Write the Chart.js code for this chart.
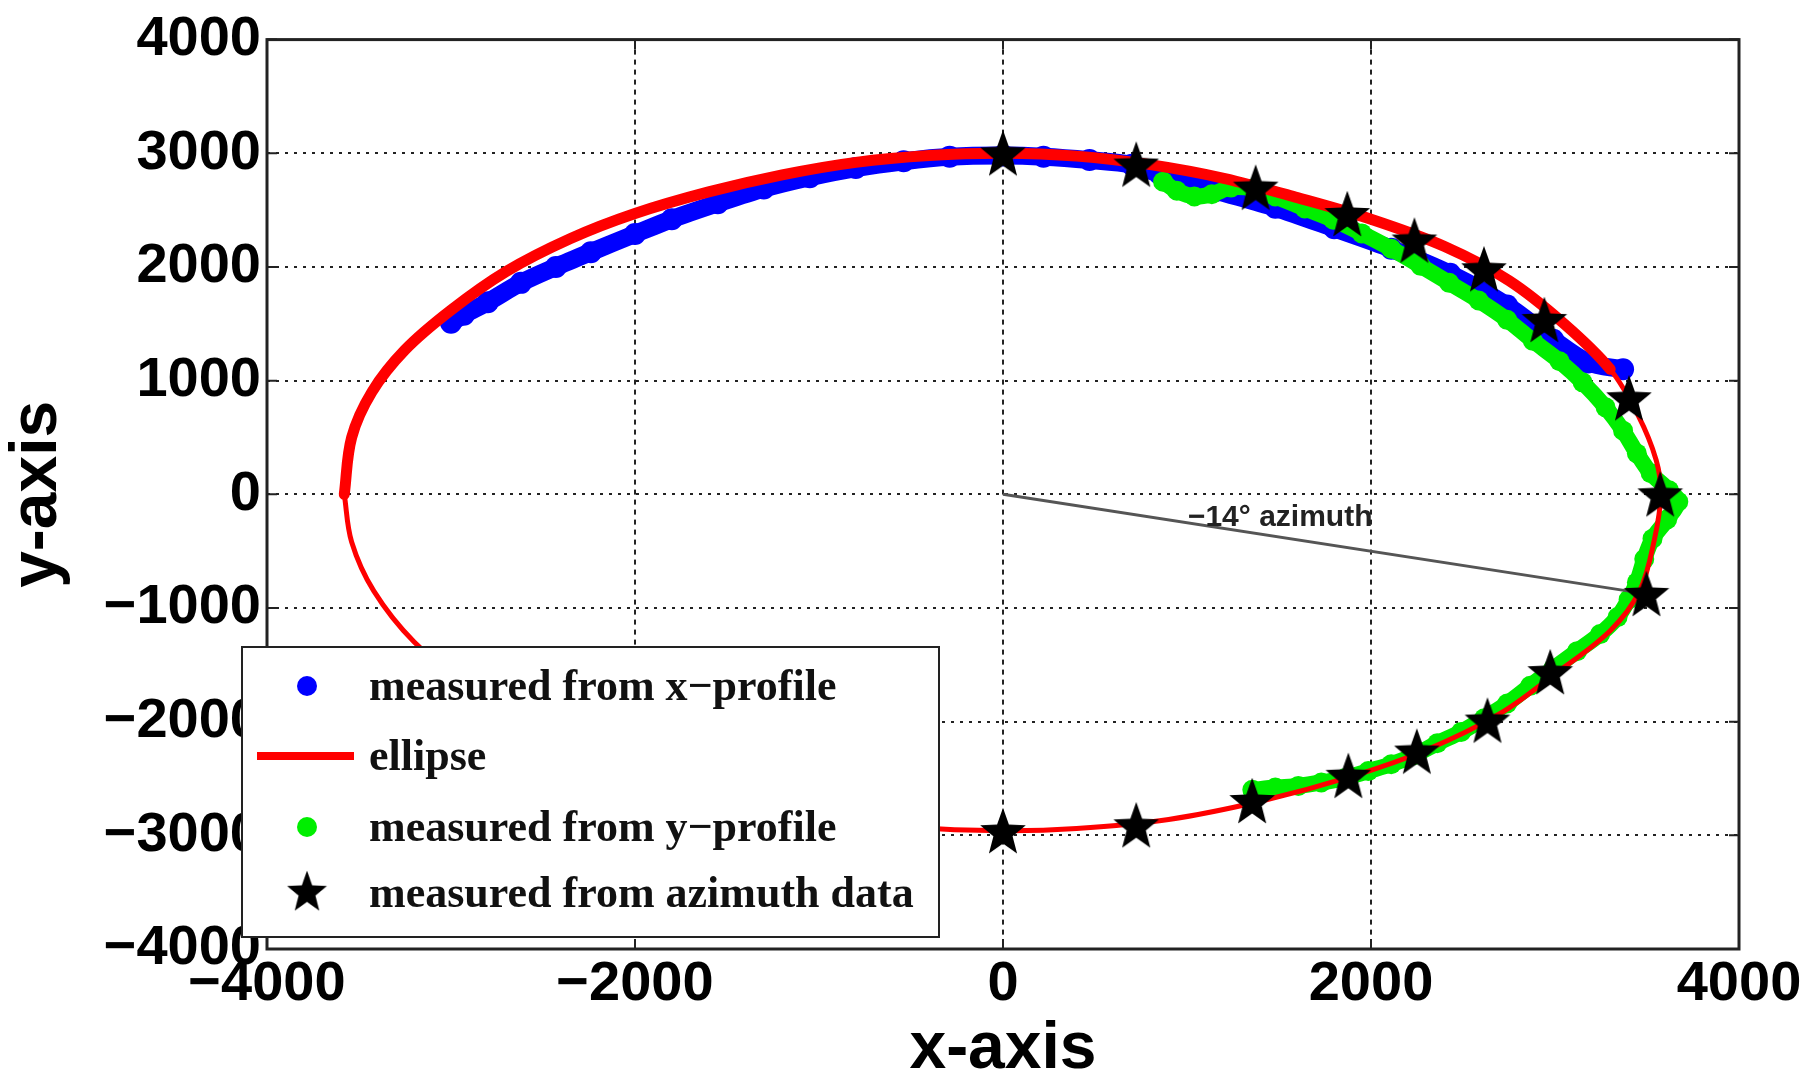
<!DOCTYPE html>
<html>
<head>
<meta charset="utf-8">
<title>Ellipse fit</title>
<script src="https://cdn.jsdelivr.net/npm/chart.js@4.4.1/dist/chart.umd.min.js"></script>
<style>
  body { margin: 0; background: #fff; }
  #wrap { width: 1818px; height: 1075px; }
</style>
</head>
<body>
<div id="wrap"><canvas id="ellipseChart" width="1818" height="1075"></canvas></div>
<script>
// axis ticks
const xTicks = [-4000, -2000, 0, 2000, 4000];
const yTicks = [-4000, -3000, -2000, -1000, 0, 1000, 2000, 3000, 4000];

// legend names
const seriesNames = ["measured from x\u2212profile", "ellipse", "measured from y\u2212profile", "measured from azimuth data"];

// blue: measured from x-profile
const blueX = [-3000, -2930, -2800, -2620, -2430, -2240, -2000, -1800, -1550, -1300, -1050, -800, -540, -290, 0, 220, 470, 700, 850, 1160, 1480, 1800, 2110, 2430, 2740, 2990, 3180, 3370];
const blueY = [1510, 1580, 1690, 1860, 2000, 2130, 2290, 2420, 2560, 2690, 2790, 2870, 2930, 2970, 2980, 2970, 2940, 2900, 2820, 2670, 2520, 2340, 2160, 1940, 1660, 1360, 1160, 1100];

// red: fitted ellipse
const ellipseX = [-3580, -3540, -3430, -3250, -3000, -2700, -2350, -2000, -1600, -1200, -800, -400, 0, 400, 800, 1200, 1600, 2000, 2400, 2750, 3050, 3300, 3450, 3550, 3575, 3540, 3460, 3300, 3000, 2700, 2300, 1900, 1400, 900, 400, 0, -500, -1000, -1500, -2000, -2500, -2900, -3200, -3420, -3540, -3580];
const ellipseY = [0, 500, 900, 1270, 1620, 1960, 2250, 2470, 2660, 2810, 2920, 2980, 3000, 2975, 2900, 2780, 2610, 2420, 2180, 1880, 1500, 1100, 700, 300, 0, -400, -850, -1200, -1580, -1930, -2250, -2480, -2700, -2860, -2940, -2960, -2930, -2840, -2680, -2450, -2100, -1700, -1300, -850, -420, 0];

// green: measured from y-profile
const greenX = [870, 945, 1040, 1135, 1240, 1355, 1480, 1640, 1795, 1950, 2110, 2270, 2425, 2585, 2740, 2880, 3025, 3150, 3275, 3370, 3445, 3520, 3620, 3670, 3610, 3530, 3485, 3445, 3400, 3340, 3245, 3120, 2990, 2865, 2740, 2615, 2490, 2360, 2235, 2110, 1985, 1860, 1730, 1605, 1480, 1355];
const greenY = [2750, 2670, 2620, 2640, 2700, 2690, 2620, 2515, 2415, 2295, 2160, 2010, 1860, 1705, 1535, 1350, 1170, 985, 765, 560, 360, 185, 35, -65, -220, -390, -570, -775, -925, -1080, -1230, -1380, -1535, -1685, -1840, -1970, -2090, -2190, -2295, -2375, -2435, -2495, -2535, -2565, -2580, -2600];

// black stars: measured from azimuth data
const starX = [0, 724, 1373, 1871, 2236, 2614, 2942, 3402, 3572, 3497, 2974, 2633, 2249, 1877, 1354, 724, 0];
const starY = [3000, 2901, 2698, 2466, 2233, 1980, 1534, 845, 0, -876, -1564, -1990, -2263, -2476, -2698, -2911, -2962];

// azimuth ray
const azimuthX = [0, 3497];
const azimuthY = [0, -876];

function toPoints(xs, ys) {
    return xs.map((x, i) => ({ x: x, y: ys[i] }));
}

function makeStar(size) {
    const c = document.createElement("canvas");
    c.width = size;
    c.height = size;
    const g = c.getContext("2d");
    const R = size / 2, r = R * 0.42;
    g.beginPath();
    for (let i = 0; i < 10; i++) {
        const rad = i % 2 ? r : R;
        const a = -Math.PI / 2 + i * Math.PI / 5;
        g.lineTo(R + rad * Math.cos(a), R + rad * 1.05 * Math.sin(a) + 2);
    }
    g.closePath();
    g.fillStyle = "#000";
    g.fill();
    return c;
}
const starImg = makeStar(48);

const SANS = "'Liberation Sans', Arial, Helvetica, sans-serif";
const SERIF = "'Liberation Serif', 'Times New Roman', serif";

// box, inner ticks, azimuth label and legend drawn on top
const framePlugin = {
    id: "frame",
    afterDraw(chart) {
        const { ctx, chartArea: a, scales } = chart;
        ctx.save();
        ctx.strokeStyle = "#222";
        ctx.lineWidth = 2;
        ctx.setLineDash([]);
        ctx.beginPath();
        yTicks.forEach(v => {
            const py = scales.y.getPixelForValue(v);
            ctx.moveTo(a.left, py); ctx.lineTo(a.left + 10, py);
            ctx.moveTo(a.right, py); ctx.lineTo(a.right - 10, py);
        });
        xTicks.forEach(v => {
            const px = scales.x.getPixelForValue(v);
            ctx.moveTo(px, a.bottom); ctx.lineTo(px, a.bottom - 10);
            ctx.moveTo(px, a.top); ctx.lineTo(px, a.top + 10);
        });
        ctx.stroke();
        ctx.lineWidth = 3;
        ctx.strokeRect(a.left, a.top, a.right - a.left, a.bottom - a.top);

        // azimuth label
        ctx.fillStyle = "#222";
        ctx.font = "bold 30px " + SANS;
        ctx.textBaseline = "middle";
        ctx.textAlign = "left";
        ctx.fillText("\u221214\u00b0 azimuth", scales.x.getPixelForValue(1005), scales.y.getPixelForValue(-210));

        // legend box
        const lx = a.left - 25, ly = a.bottom - 302, lw = 697, lh = 290;
        ctx.fillStyle = "#fff";
        ctx.fillRect(lx, ly, lw, lh);
        ctx.strokeStyle = "#222";
        ctx.lineWidth = 2;
        ctx.strokeRect(lx, ly, lw, lh);
        const mx = lx + 65, tx = lx + 127;
        const rows = [ly + 42, ly + 112, ly + 183, ly + 249];
        ctx.fillStyle = "#0000ff";
        ctx.beginPath(); ctx.arc(mx, rows[0] - 3, 10, 0, Math.PI * 2); ctx.fill();
        ctx.strokeStyle = "#ff0000";
        ctx.lineWidth = 8;
        ctx.beginPath(); ctx.moveTo(lx + 15, rows[1] - 3); ctx.lineTo(lx + 112, rows[1] - 3); ctx.stroke();
        ctx.fillStyle = "#00ee00";
        ctx.beginPath(); ctx.arc(mx, rows[2] - 3, 10, 0, Math.PI * 2); ctx.fill();
        ctx.drawImage(starImg, mx - 21, rows[3] - 26, 42, 42);
        ctx.fillStyle = "#111";
        ctx.font = "bold 44px " + SERIF;
        seriesNames.forEach((n, i) => ctx.fillText(n, tx, rows[i]));
        ctx.restore();
    }
};

const gridStyle = { color: "#222", lineWidth: 2, drawTicks: false };

new Chart(document.getElementById("ellipseChart"), {
    type: "scatter",
    data: {
        datasets: [
            {
                label: seriesNames[3],
                data: toPoints(starX, starY),
                pointStyle: starImg,
                pointRadius: 24,
                order: 1
            },
            {
                label: "azimuth",
                data: toPoints(azimuthX, azimuthY),
                showLine: true,
                borderColor: "#555",
                borderWidth: 3,
                pointRadius: 0,
                order: 2
            },
            {
                label: seriesNames[1],
                data: toPoints(ellipseX, ellipseY),
                showLine: true,
                borderColor: "#ff0000",
                borderWidth: 11,
                tension: 0.35,
                pointRadius: 0,
                borderCapStyle: "round",
                segment: {
                    borderWidth: ctx => ctx.p0DataIndex < 21 ? 11 : 5
                },
                order: 3
            },
            {
                label: seriesNames[2],
                data: toPoints(greenX, greenY),
                showLine: true,
                borderColor: "#00ee00",
                borderWidth: 16,
                borderCapStyle: "round",
                tension: 0.3,
                pointRadius: 10,
                pointBackgroundColor: "#00ee00",
                pointBorderWidth: 0,
                order: 4
            },
            {
                label: seriesNames[0],
                data: toPoints(blueX, blueY),
                showLine: true,
                borderColor: "#0000ff",
                borderWidth: 18,
                borderCapStyle: "round",
                tension: 0.3,
                pointRadius: 11,
                pointBackgroundColor: "#0000ff",
                pointBorderWidth: 0,
                order: 5
            }
        ]
    },
    options: {
        responsive: false,
        animation: false,
        layout: { padding: { left: 0, top: 33, right: 79, bottom: 0 } },
        plugins: { legend: { display: false }, tooltip: { enabled: false } },
        scales: {
            x: {
                type: "linear",
                min: -4000,
                max: 4000,
                afterBuildTicks: s => { s.ticks = xTicks.map(v => ({ value: v })); },
                afterFit: s => { s.height = 126; },
                grid: gridStyle,
                border: { display: false, dash: [5, 5] },
                ticks: {
                    padding: 2,
                    color: "#000",
                    font: { family: SANS, size: 56, weight: "bold" },
                    callback: v => v < 0 ? "\u2212" + Math.abs(v) : String(v)
                },
                title: {
                    display: true,
                    text: "x-axis",
                    color: "#000",
                    padding: { top: 0, bottom: 0 },
                    font: { family: SANS, size: 66, weight: "bold", lineHeight: 0.76 }
                }
            },
            y: {
                type: "linear",
                min: -4000,
                max: 4000,
                afterBuildTicks: s => { s.ticks = yTicks.map(v => ({ value: v })); },
                afterFit: s => { s.width = 267; },
                grid: gridStyle,
                border: { display: false, dash: [3, 6] },
                ticks: {
                    padding: 6,
                    color: "#000",
                    font: { family: SANS, size: 56, weight: "bold" },
                    callback: v => v < 0 ? "\u2212" + Math.abs(v) : String(v)
                },
                title: {
                    display: true,
                    text: "y-axis",
                    color: "#000",
                    padding: { top: 13, bottom: 0 },
                    font: { family: SANS, size: 66, weight: "bold", lineHeight: 0.76 }
                }
            }
        }
    },
    plugins: [framePlugin]
});
</script>
</body>
</html>
